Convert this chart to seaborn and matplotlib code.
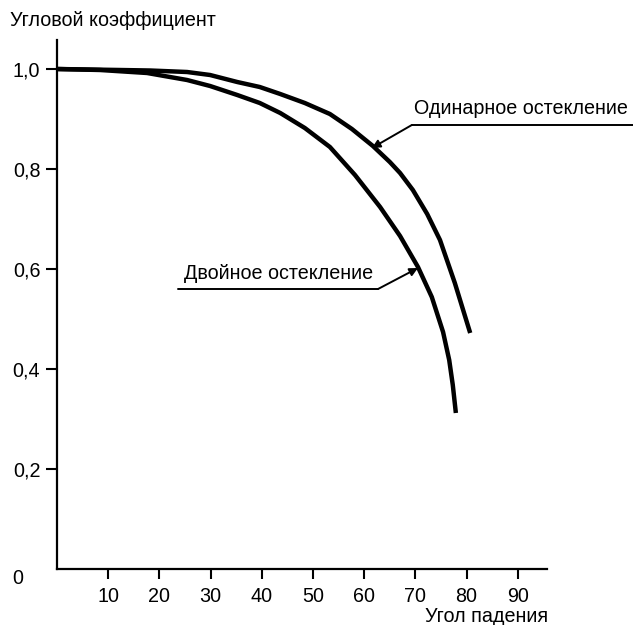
import matplotlib
matplotlib.use("Agg")
import matplotlib.pyplot as plt
import seaborn as sns
import pandas as pd

# Data
single_x = [0, 12.3, 18.2, 25.4, 29.9, 35.2, 39.6, 43.6, 48.4, 53.3, 57.6, 61.7,
            65.0, 67.0, 69.5, 72.3, 74.8, 77.7, 80.7]
single_y = [1.0, 0.998, 0.997, 0.994, 0.988, 0.974, 0.964, 0.950, 0.932, 0.910, 0.880, 0.846,
            0.814, 0.792, 0.758, 0.710, 0.658, 0.572, 0.472]
double_x = [0, 8.4, 17.6, 25.4, 29.9, 35.2, 39.6, 43.6, 48.4, 53.3, 58.2, 63.1,
            67.0, 70.5, 73.2, 75.4, 76.6, 77.3, 77.9]
double_y = [1.0, 0.998, 0.992, 0.978, 0.966, 0.948, 0.932, 0.912, 0.882, 0.844, 0.788, 0.724,
            0.666, 0.604, 0.544, 0.474, 0.418, 0.368, 0.312]
series_names = ["Одинарное остекление", "Двойное остекление"]
x_ticks = [10, 20, 30, 40, 50, 60, 70, 80, 90]
y_ticks = [0.2, 0.4, 0.6, 0.8, 1.0]
y_tick_labels = ["0,2", "0,4", "0,6", "0,8", "1,0"]
y_label = "Угловой коэффициент"
x_label = "Угол падения"

df = pd.concat([
    pd.DataFrame({"x": single_x, "y": single_y, "s": series_names[0]}),
    pd.DataFrame({"x": double_x, "y": double_y, "s": series_names[1]}),
], ignore_index=True)

sns.set_theme(style="white")
plt.rcParams["font.family"] = ["Liberation Sans", "DejaVu Sans"]
plt.rcParams["text.color"] = "black"
plt.rcParams["xtick.color"] = "black"
plt.rcParams["ytick.color"] = "black"
FS = 14.2

fig = plt.figure(figsize=(6.33, 6.25), dpi=100)
ax = fig.add_axes([57 / 633, 1 - 569 / 625, 490 / 633, 529 / 625])

sns.lineplot(data=df, x="x", y="y", hue="s", palette=["black", "black"],
             sort=False, estimator=None, linewidth=3.2, legend=False, ax=ax)
for ln in ax.lines:
    ln.set_solid_capstyle("butt")
    ln.set_solid_joinstyle("round")

ax.set_xlim(0, 95.7)
ax.set_ylim(0, 1.058)
for s in ["top", "right"]:
    ax.spines[s].set_visible(False)
for s in ["left", "bottom"]:
    ax.spines[s].set_color("black")
    ax.spines[s].set_linewidth(1.6)

ax.set_xticks(x_ticks)
ax.set_xticklabels([str(t) for t in x_ticks], fontsize=FS, color="black")
ax.set_yticks(y_ticks)
ax.set_yticklabels(y_tick_labels, fontsize=FS, color="black")
ax.tick_params(axis="x", direction="out", length=7, width=1.5, pad=6, colors="black", bottom=True)
ax.tick_params(axis="y", direction="out", length=8, width=1.5, pad=4, colors="black", left=True)
ax.set_xlabel("")
ax.set_ylabel("")

# "0" at origin
ax.annotate("0", xy=(0, 0), xycoords="data", xytext=(-32, -7), textcoords="offset points",
            fontsize=FS, ha="left", va="center", color="black", annotation_clip=False)

fig.text(10 / 633, 1 - 20 / 625, y_label, fontsize=FS, ha="left", va="center", color="black")
fig.text(548 / 633, 1 - 617 / 625, x_label, fontsize=FS, ha="right", va="center", color="black")

# Annotations with leader lines
lw_a = 1.4
# Single glazing
ax.plot([69.3, 112.5], [0.888, 0.888], color="black", lw=lw_a, clip_on=False)
ax.annotate("", xy=(61.5, 0.842), xytext=(69.3, 0.888),
            arrowprops=dict(arrowstyle="-|>", color="black", lw=lw_a, mutation_scale=12,
                            shrinkA=0, shrinkB=0), annotation_clip=False)
ax.text(69.7, 0.92, series_names[0], fontsize=FS, ha="left", va="center", color="black",
        clip_on=False)
# Double glazing
ax.plot([23.6, 62.7], [0.56, 0.56], color="black", lw=lw_a, clip_on=False)
ax.annotate("", xy=(70.5, 0.602), xytext=(62.7, 0.56),
            arrowprops=dict(arrowstyle="-|>", color="black", lw=lw_a, mutation_scale=12,
                            shrinkA=0, shrinkB=0), annotation_clip=False)
ax.text(24.8, 0.592, series_names[1], fontsize=FS, ha="left", va="center", color="black")

fig.savefig("out.png", dpi=100)
